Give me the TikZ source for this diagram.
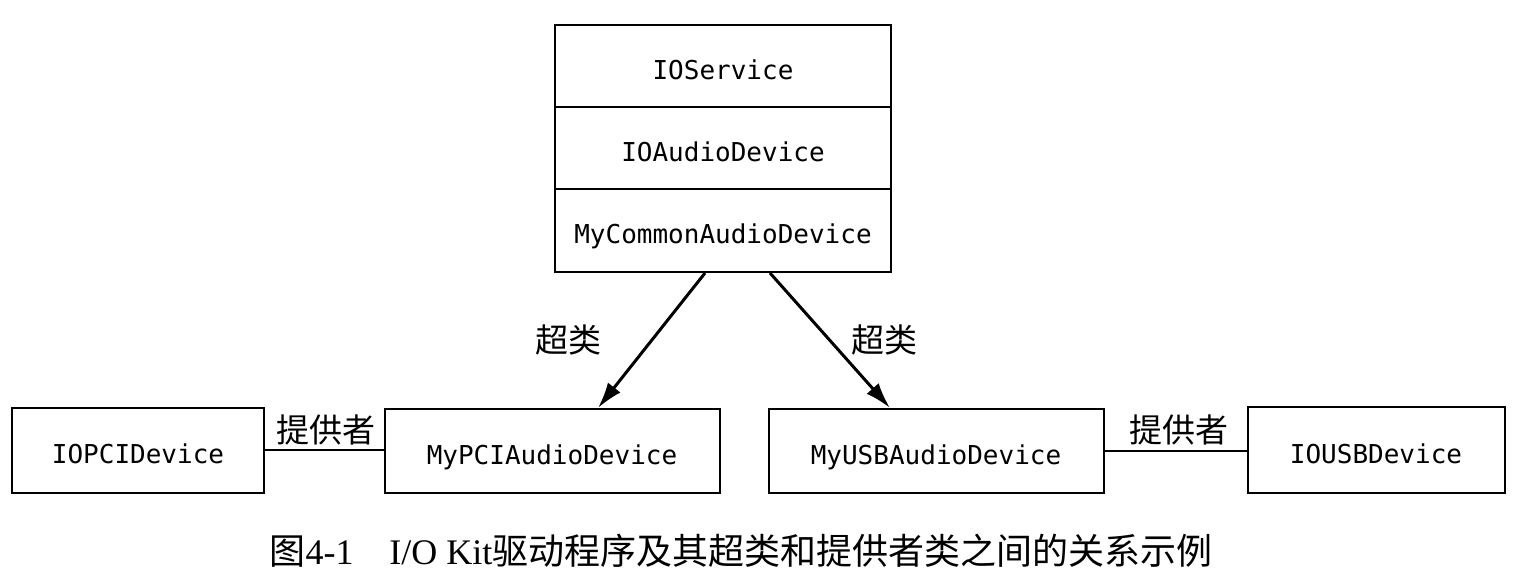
\documentclass[tikz,border=0pt]{standalone}
\usepackage{fontspec}
\setmainfont{Liberation Serif}
\setmonofont{DejaVu Sans Mono}
\newfontfamily\cjk{Noto Sans CJK SC}
\usetikzlibrary{arrows.meta}
\tikzset{
  cls/.style={draw,line width=1pt,font=\ttfamily\fontsize{13}{15}\selectfont,inner sep=0pt,
    text height=13pt,text depth=0pt},
  lbl/.style={font=\cjk\fontsize{16.5}{18}\selectfont,inner sep=0pt},
  super/.style={line width=1.5pt,-{Latex[length=13pt,width=8pt]}},
  prov/.style={line width=0.8pt}
}
\begin{document}
\begin{tikzpicture}[x=0.5pt,y=-0.5pt]
\useasboundingbox (0,0) rectangle (1518,584);

% class stack
\node[cls,minimum width=168pt,minimum height=41pt] (svc) at (723,66) {IOService};
\node[cls,minimum width=168pt,minimum height=41pt] (aud) at (723,148) {IOAudioDevice};
\node[cls,minimum width=168pt,minimum height=41.5pt] (com) at (723,230.5) {MyCommonAudioDevice};

% drivers and providers
\node[cls,minimum width=126pt,minimum height=42.5pt] (pci) at (138,450) {IOPCIDevice};
\node[cls,minimum width=167.5pt,minimum height=42pt] (mypci) at (552,451) {MyPCIAudioDevice};
\node[cls,minimum width=167.5pt,minimum height=42pt] (myusb) at (936,451) {MyUSBAudioDevice};
\node[cls,minimum width=128.5pt,minimum height=43pt] (usb) at (1376,450) {IOUSBDevice};

\draw[super] ([xshift=-9pt]com.south) -- ([xshift=23pt]mypci.north);
\draw[super] ([xshift=23.5pt]com.south) -- ([xshift=-23pt]myusb.north);
\node[lbl] (sup1) at (568,340) {超类};
\node[lbl] (sup2) at (884,340) {超类};

\draw[prov] (pci.east) -- (pci.east -| mypci.west);
\draw[prov] (myusb.east) -- (myusb.east -| usb.west);
\node[lbl] (prv1) at (326,430) {提供者};
\node[lbl] (prv2) at (1179,430) {提供者};

% caption
\node[font=\fontsize{18}{20}\selectfont,inner sep=0pt] (cap) at (741,551)
  {{\cjk 图}4-1\hspace{18pt}I/O Kit{\cjk 驱动程序及其超类和提供者类之间的关系示例}};
\end{tikzpicture}
\end{document}
